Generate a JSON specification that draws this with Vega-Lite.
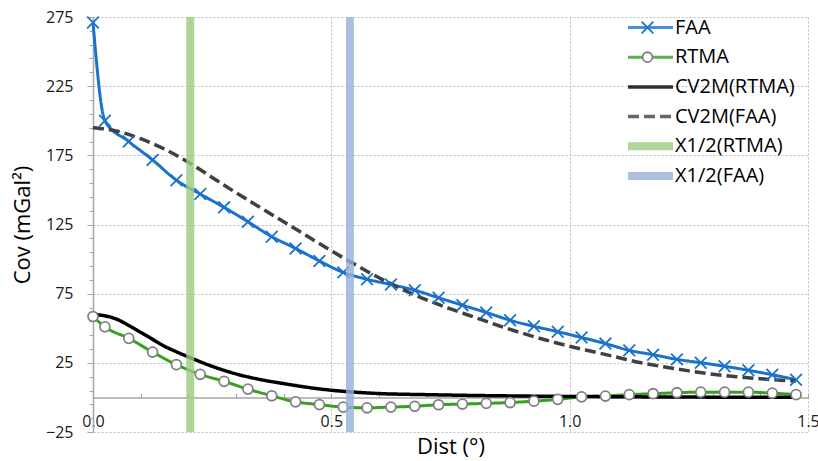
{
  "$schema": "https://vega.github.io/schema/vega-lite/v6.json",
  "width": 715,
  "height": 415,
  "autosize": {"type": "none"},
  "padding": {"left": 93, "top": 17, "right": 10, "bottom": 29},
  "background": "white",
  "config": {"view": {"stroke": null}, "font": "Open Sans"},
  "datasets": {
    "curves": [
      {"series": "FAA", "x": 0, "y": 271},
      {"series": "FAA", "x": 0.025, "y": 200},
      {"series": "FAA", "x": 0.075, "y": 185},
      {"series": "FAA", "x": 0.125, "y": 171.7},
      {"series": "FAA", "x": 0.175, "y": 157},
      {"series": "FAA", "x": 0.225, "y": 147},
      {"series": "FAA", "x": 0.275, "y": 137.4},
      {"series": "FAA", "x": 0.325, "y": 127},
      {"series": "FAA", "x": 0.375, "y": 116.2},
      {"series": "FAA", "x": 0.425, "y": 107.7},
      {"series": "FAA", "x": 0.475, "y": 98.6},
      {"series": "FAA", "x": 0.525, "y": 90.4},
      {"series": "FAA", "x": 0.575, "y": 85.4},
      {"series": "FAA", "x": 0.625, "y": 81.6},
      {"series": "FAA", "x": 0.675, "y": 77.5},
      {"series": "FAA", "x": 0.725, "y": 72},
      {"series": "FAA", "x": 0.775, "y": 66.7},
      {"series": "FAA", "x": 0.825, "y": 61.4},
      {"series": "FAA", "x": 0.875, "y": 55.8},
      {"series": "FAA", "x": 0.925, "y": 51.4},
      {"series": "FAA", "x": 0.975, "y": 47.5},
      {"series": "FAA", "x": 1.025, "y": 43.3},
      {"series": "FAA", "x": 1.075, "y": 38.9},
      {"series": "FAA", "x": 1.125, "y": 34},
      {"series": "FAA", "x": 1.175, "y": 30.9},
      {"series": "FAA", "x": 1.225, "y": 27.5},
      {"series": "FAA", "x": 1.275, "y": 25.1},
      {"series": "FAA", "x": 1.325, "y": 22.5},
      {"series": "FAA", "x": 1.375, "y": 19.6},
      {"series": "FAA", "x": 1.425, "y": 16.4},
      {"series": "FAA", "x": 1.475, "y": 12.8},
      {"series": "RTMA", "x": 0, "y": 58.5},
      {"series": "RTMA", "x": 0.025, "y": 51},
      {"series": "RTMA", "x": 0.075, "y": 42.7},
      {"series": "RTMA", "x": 0.125, "y": 32.8},
      {"series": "RTMA", "x": 0.175, "y": 23.7},
      {"series": "RTMA", "x": 0.225, "y": 16.7},
      {"series": "RTMA", "x": 0.275, "y": 11.6},
      {"series": "RTMA", "x": 0.325, "y": 6},
      {"series": "RTMA", "x": 0.375, "y": 1.2},
      {"series": "RTMA", "x": 0.425, "y": -3.2},
      {"series": "RTMA", "x": 0.475, "y": -5.2},
      {"series": "RTMA", "x": 0.525, "y": -7},
      {"series": "RTMA", "x": 0.575, "y": -7.5},
      {"series": "RTMA", "x": 0.625, "y": -7},
      {"series": "RTMA", "x": 0.675, "y": -6.4},
      {"series": "RTMA", "x": 0.725, "y": -5.3},
      {"series": "RTMA", "x": 0.775, "y": -4.8},
      {"series": "RTMA", "x": 0.825, "y": -4.3},
      {"series": "RTMA", "x": 0.875, "y": -3.7},
      {"series": "RTMA", "x": 0.925, "y": -2.7},
      {"series": "RTMA", "x": 0.975, "y": -1.4},
      {"series": "RTMA", "x": 1.025, "y": 0.4},
      {"series": "RTMA", "x": 1.075, "y": 1},
      {"series": "RTMA", "x": 1.125, "y": 2},
      {"series": "RTMA", "x": 1.175, "y": 2.7},
      {"series": "RTMA", "x": 1.225, "y": 3.4},
      {"series": "RTMA", "x": 1.275, "y": 3.8},
      {"series": "RTMA", "x": 1.325, "y": 3.8},
      {"series": "RTMA", "x": 1.375, "y": 3.8},
      {"series": "RTMA", "x": 1.425, "y": 3.1},
      {"series": "RTMA", "x": 1.475, "y": 2},
      {"series": "CV2M(RTMA)", "x": 0, "y": 60},
      {"series": "CV2M(RTMA)", "x": 0.025, "y": 59},
      {"series": "CV2M(RTMA)", "x": 0.05, "y": 56.5},
      {"series": "CV2M(RTMA)", "x": 0.075, "y": 52},
      {"series": "CV2M(RTMA)", "x": 0.1, "y": 47},
      {"series": "CV2M(RTMA)", "x": 0.125, "y": 42},
      {"series": "CV2M(RTMA)", "x": 0.15, "y": 37},
      {"series": "CV2M(RTMA)", "x": 0.175, "y": 33},
      {"series": "CV2M(RTMA)", "x": 0.2, "y": 29.3},
      {"series": "CV2M(RTMA)", "x": 0.25, "y": 22.5},
      {"series": "CV2M(RTMA)", "x": 0.3, "y": 17},
      {"series": "CV2M(RTMA)", "x": 0.35, "y": 13},
      {"series": "CV2M(RTMA)", "x": 0.4, "y": 10},
      {"series": "CV2M(RTMA)", "x": 0.45, "y": 7.3},
      {"series": "CV2M(RTMA)", "x": 0.5, "y": 5.2},
      {"series": "CV2M(RTMA)", "x": 0.55, "y": 3.8},
      {"series": "CV2M(RTMA)", "x": 0.6, "y": 2.8},
      {"series": "CV2M(RTMA)", "x": 0.7, "y": 2},
      {"series": "CV2M(RTMA)", "x": 0.8, "y": 1.4},
      {"series": "CV2M(RTMA)", "x": 0.9, "y": 1},
      {"series": "CV2M(RTMA)", "x": 1.0, "y": 0.7},
      {"series": "CV2M(RTMA)", "x": 1.1, "y": 0.5},
      {"series": "CV2M(RTMA)", "x": 1.2, "y": 0.3},
      {"series": "CV2M(RTMA)", "x": 1.3, "y": 0.2},
      {"series": "CV2M(RTMA)", "x": 1.475, "y": 0.1},
      {"series": "CV2M(FAA)", "x": 0, "y": 195},
      {"series": "CV2M(FAA)", "x": 0.05, "y": 192.5},
      {"series": "CV2M(FAA)", "x": 0.1, "y": 187},
      {"series": "CV2M(FAA)", "x": 0.15, "y": 179.5},
      {"series": "CV2M(FAA)", "x": 0.2, "y": 170},
      {"series": "CV2M(FAA)", "x": 0.25, "y": 159},
      {"series": "CV2M(FAA)", "x": 0.3, "y": 148},
      {"series": "CV2M(FAA)", "x": 0.35, "y": 137.5},
      {"series": "CV2M(FAA)", "x": 0.4, "y": 127},
      {"series": "CV2M(FAA)", "x": 0.45, "y": 116.5},
      {"series": "CV2M(FAA)", "x": 0.5, "y": 106},
      {"series": "CV2M(FAA)", "x": 0.55, "y": 96},
      {"series": "CV2M(FAA)", "x": 0.6, "y": 86.5},
      {"series": "CV2M(FAA)", "x": 0.65, "y": 78},
      {"series": "CV2M(FAA)", "x": 0.7, "y": 70.5},
      {"series": "CV2M(FAA)", "x": 0.75, "y": 64},
      {"series": "CV2M(FAA)", "x": 0.8, "y": 58},
      {"series": "CV2M(FAA)", "x": 0.85, "y": 52},
      {"series": "CV2M(FAA)", "x": 0.9, "y": 46.5},
      {"series": "CV2M(FAA)", "x": 0.95, "y": 41.5},
      {"series": "CV2M(FAA)", "x": 1.0, "y": 37},
      {"series": "CV2M(FAA)", "x": 1.05, "y": 33},
      {"series": "CV2M(FAA)", "x": 1.1, "y": 29},
      {"series": "CV2M(FAA)", "x": 1.15, "y": 25},
      {"series": "CV2M(FAA)", "x": 1.2, "y": 22},
      {"series": "CV2M(FAA)", "x": 1.25, "y": 19.2},
      {"series": "CV2M(FAA)", "x": 1.3, "y": 16.8},
      {"series": "CV2M(FAA)", "x": 1.35, "y": 15},
      {"series": "CV2M(FAA)", "x": 1.4, "y": 13.5},
      {"series": "CV2M(FAA)", "x": 1.45, "y": 12.3},
      {"series": "CV2M(FAA)", "x": 1.475, "y": 11.8}
    ],
    "bands": [
      {"series": "X1/2(RTMA)", "x": 0.204},
      {"series": "X1/2(FAA)", "x": 0.539}
    ]
  },
  "layer": [
    {
      "data": {"name": "curves"},
      "mark": {"type": "line", "interpolate": "monotone"},
      "encoding": {
        "x": {
          "field": "x", "type": "quantitative",
          "scale": {"domain": [0, 1.5], "nice": false, "zero": false},
          "axis": {
            "orient": "bottom",
            "values": [0, 0.5, 1, 1.5], "format": ".1f",
            "grid": true, "gridDash": [2, 2], "gridColor": "#bfbfbf",
            "domain": false, "ticks": false,
            "labelFontSize": 16, "labelColor": "#1a1a1a", "labelPadding": -19,
            "labelFlush": false, "labelOverlap": false,
            "title": "Dist (°)", "titleFontSize": 22, "titleFontWeight": "normal",
            "titleColor": "#000000", "titlePadding": 4
          }
        },
        "y": {
          "field": "y", "type": "quantitative",
          "scale": {"domain": [-25, 275], "nice": false, "zero": false},
          "axis": {
            "orient": "left",
            "values": [-25, 25, 75, 125, 175, 225, 275],
            "grid": true, "gridDash": [2, 2], "gridColor": "#bfbfbf",
            "ticks": true, "tickSize": 6, "tickColor": "#a6a6a6",
            "domain": true, "domainColor": "#a6a6a6", "domainWidth": 1.5,
            "labelFontSize": 16, "labelColor": "#1a1a1a", "labelPadding": 14,
            "labelOverlap": false, "labelFlush": false,
            "title": "Cov (mGal²)", "titleFontSize": 22, "titleFontWeight": "normal",
            "titleColor": "#000000", "titlePadding": 11
          }
        },
        "color": {
          "field": "series", "type": "nominal",
          "scale": {"domain": ["FAA", "RTMA", "CV2M(RTMA)", "CV2M(FAA)", "X1/2(RTMA)", "X1/2(FAA)"], "range": ["#1a72cc", "#35a01f", "#000000", "#404040", "#9ccb7e", "#98aedc"]},
          "legend": {"orient": "none", "legendX": 531, "legendY": -3, "title": null, "symbolType": "stroke", "symbolSize": 2025, "labelFontSize": 20, "labelFont": "Open Sans", "labelColor": "#000000", "labelOffset": -2, "padding": 0, "rowPadding": 2.7, "clipHeight": 27, "zindex": 0}
        },
        "strokeDash": {
          "field": "series", "type": "nominal",
          "scale": {"domain": ["FAA", "RTMA", "CV2M(RTMA)", "CV2M(FAA)", "X1/2(RTMA)", "X1/2(FAA)"], "range": [[1, 0], [1, 0], [1, 0], [11, 5], [1, 0], [1, 0]]},
          "legend": {"orient": "none", "legendX": 531, "legendY": -3, "title": null, "symbolType": "stroke", "symbolSize": 2025, "labelFontSize": 20, "labelFont": "Open Sans", "labelColor": "#000000", "labelOffset": -2, "padding": 0, "rowPadding": 2.7, "clipHeight": 27, "zindex": 0}
        },
        "strokeWidth": {
          "field": "series", "type": "nominal",
          "scale": {"type": "ordinal", "domain": ["FAA", "RTMA", "CV2M(RTMA)", "CV2M(FAA)", "X1/2(RTMA)", "X1/2(FAA)"], "range": [3, 3, 3.5, 3.5, 8, 8]},
          "legend": {"orient": "none", "legendX": 531, "legendY": -3, "title": null, "symbolType": "stroke", "symbolSize": 2025, "labelFontSize": 20, "labelFont": "Open Sans", "labelColor": "#000000", "labelOffset": -2, "padding": 0, "rowPadding": 2.7, "clipHeight": 27, "zindex": 0}
        }
      }
    },
    {
      "data": {"name": "curves"},
      "transform": [{"filter": {"field": "series", "oneOf": ["FAA", "RTMA"]}}],
      "mark": {"type": "point", "filled": false, "fill": "white", "opacity": 1, "strokeWidth": 1.8, "size": 2025},
      "encoding": {
        "x": {"field": "x", "type": "quantitative", "scale": {"domain": [0, 1.5], "nice": false, "zero": false},
          "axis": {"orient": "bottom", "labels": false, "ticks": false, "domain": false, "grid": false, "title": null}},
        "y": {"field": "y", "type": "quantitative", "scale": {"domain": [-25, 275], "nice": false, "zero": false},
          "axis": {
            "orient": "right", "offset": -715,
            "values": [-15, -5, 5, 15, 35, 45, 55, 65, 85, 95, 105, 115, 135, 145, 155, 165, 185, 195, 205, 215, 235, 245, 255, 265],
            "labels": false, "grid": false, "domain": false,
            "ticks": true, "tickSize": -4, "tickColor": "#a6a6a6", "tickWidth": 1,
            "title": null
          }
        },
        "shape": {
          "field": "series", "type": "nominal",
          "scale": {"domain": ["FAA", "RTMA"], "range": ["M-0.26,-0.26L0.26,0.26M-0.26,0.26L0.26,-0.26", "M-0.22,0A0.22,0.22 0 1,0 0.22,0A0.22,0.22 0 1,0 -0.22,0Z"]},
          "legend": {"orient": "none", "legendX": 531, "legendY": -3, "title": null, "symbolSize": 2025, "symbolStrokeWidth": 1.8, "symbolFillColor": "white", "labelFontSize": 20, "labelFont": "Open Sans", "labelExpr": "''", "labelOffset": -2, "padding": 0, "rowPadding": 2.7, "clipHeight": 27, "zindex": 1}
        },
        "stroke": {
          "field": "series", "type": "nominal",
          "scale": {"domain": ["FAA", "RTMA"], "range": ["#1a72cc", "#808080"]},
          "legend": {"orient": "none", "legendX": 531, "legendY": -3, "title": null, "symbolSize": 2025, "symbolStrokeWidth": 1.8, "symbolFillColor": "white", "labelFontSize": 20, "labelFont": "Open Sans", "labelExpr": "''", "labelOffset": -2, "padding": 0, "rowPadding": 2.7, "clipHeight": 27, "zindex": 1}
        }
      }
    },
    {
      "data": {"name": "bands"},
      "mark": {"type": "rule", "opacity": 0.8},
      "encoding": {
        "x": {
          "field": "x", "type": "quantitative",
          "scale": {"domain": [0, 1.5], "nice": false, "zero": false},
          "axis": {
            "orient": "top", "offset": -380.42,
            "values": [0, 0.1, 0.2, 0.3, 0.4, 0.5, 0.6, 0.7, 0.8, 0.9, 1.0, 1.1, 1.2, 1.3, 1.4, 1.5],
            "grid": false, "labels": false, "domain": true,
            "domainColor": "#a6a6a6", "domainWidth": 1.5,
            "ticks": true, "tickColor": "#a6a6a6", "tickSize": 4, "tickWidth": 1.2,
            "title": null
          }
        },
        "color": {
          "field": "series", "type": "nominal",
          "scale": {"domain": ["FAA", "RTMA", "CV2M(RTMA)", "CV2M(FAA)", "X1/2(RTMA)", "X1/2(FAA)"], "range": ["#1a72cc", "#35a01f", "#000000", "#404040", "#9ccb7e", "#98aedc"]},
          "legend": {"orient": "none", "legendX": 531, "legendY": -3, "title": null, "symbolType": "stroke", "symbolSize": 2025, "labelFontSize": 20, "labelFont": "Open Sans", "labelColor": "#000000", "labelOffset": -2, "padding": 0, "rowPadding": 2.7, "clipHeight": 27, "zindex": 0}
        },
        "strokeWidth": {
          "field": "series", "type": "nominal",
          "scale": {"type": "ordinal", "domain": ["FAA", "RTMA", "CV2M(RTMA)", "CV2M(FAA)", "X1/2(RTMA)", "X1/2(FAA)"], "range": [3, 3, 3.5, 3.5, 8, 8]},
          "legend": {"orient": "none", "legendX": 531, "legendY": -3, "title": null, "symbolType": "stroke", "symbolSize": 2025, "labelFontSize": 20, "labelFont": "Open Sans", "labelColor": "#000000", "labelOffset": -2, "padding": 0, "rowPadding": 2.7, "clipHeight": 27, "zindex": 0}
        }
      }
    }
  ]
}
